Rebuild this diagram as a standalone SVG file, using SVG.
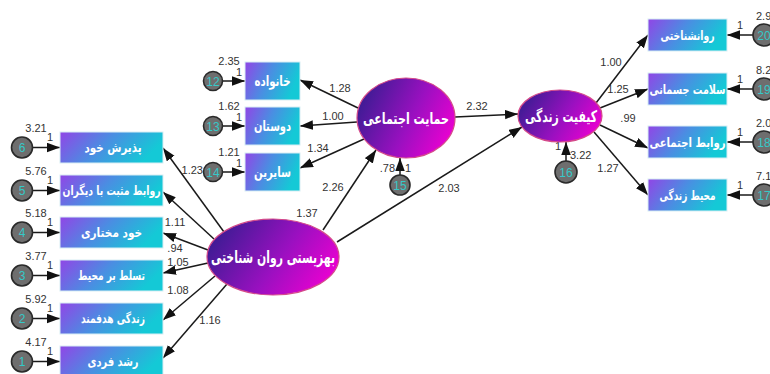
<svg xmlns="http://www.w3.org/2000/svg" width="770" height="374" viewBox="0 0 770 374">
<defs>
<linearGradient id="boxg" x1="0" y1="0" x2="1" y2="0.3">
<stop offset="0" stop-color="#9145e6"/>
<stop offset="0.5" stop-color="#4a8ee2"/>
<stop offset="1" stop-color="#14c9d6"/>
</linearGradient>
<linearGradient id="ellg" x1="0" y1="0.3" x2="1" y2="0.7">
<stop offset="0" stop-color="#3a1c92"/>
<stop offset="0.55" stop-color="#9a10c0"/>
<stop offset="1" stop-color="#ee00d2"/>
</linearGradient>
<marker id="ah" markerUnits="userSpaceOnUse" markerWidth="14" markerHeight="10" refX="13" refY="4.75" orient="auto">
<path d="M0,0 L13,4.75 L0,9.5 z" fill="#111"/>
</marker>
<style>
.box{fill:url(#boxg);stroke:#d8eef4;stroke-width:1}
.ell{fill:url(#ellg);stroke:#d44a8a;stroke-width:1.2}
.err{fill:#6e6e6e;stroke:#2a2a2a;stroke-width:1.6}
.en{fill:#36c8c8;font-family:"Liberation Sans",Arial,sans-serif;font-size:12px;text-anchor:middle}
.fa{fill:#fff;font-family:"DejaVu Sans",sans-serif;font-weight:bold;text-anchor:middle}
.num{fill:#333;font-family:"Liberation Sans",Arial,sans-serif;font-size:11px}
.c{text-anchor:middle}
.e{text-anchor:end}
.ln{stroke:#1a1a1a;stroke-width:1.5;fill:none;marker-end:url(#ah)}
</style>
</defs>
<rect width="770" height="374" fill="#fff"/>

<g id="connectors">
<line class="ln" x1="33" y1="147.5" x2="60" y2="147.5"/>
<line class="ln" x1="33" y1="190.5" x2="60" y2="190.5"/>
<line class="ln" x1="33" y1="232.5" x2="60" y2="232.5"/>
<line class="ln" x1="33" y1="275.5" x2="60" y2="275.5"/>
<line class="ln" x1="33" y1="318.5" x2="60" y2="318.5"/>
<line class="ln" x1="33" y1="361.5" x2="60" y2="361.5"/>
<line class="ln" x1="222.5" y1="81" x2="245" y2="81"/>
<line class="ln" x1="222.5" y1="126" x2="245" y2="126"/>
<line class="ln" x1="222.5" y1="172" x2="245" y2="172"/>
<line class="ln" x1="753" y1="35" x2="727" y2="35"/>
<line class="ln" x1="753" y1="89" x2="727" y2="89"/>
<line class="ln" x1="753" y1="142" x2="727" y2="142"/>
<line class="ln" x1="753" y1="195" x2="727" y2="195"/>
<line class="ln" x1="400" y1="175" x2="400" y2="158"/>
<line class="ln" x1="566" y1="161" x2="566" y2="142"/>
<line class="ln" x1="224" y1="232" x2="163" y2="148"/>
<line class="ln" x1="214" y1="239" x2="163" y2="192"/>
<line class="ln" x1="208" y1="250" x2="163" y2="233"/>
<line class="ln" x1="208" y1="263" x2="163" y2="273"/>
<line class="ln" x1="215" y1="276" x2="163" y2="320"/>
<line class="ln" x1="227" y1="284" x2="163" y2="358"/>
<line class="ln" x1="358" y1="108" x2="300" y2="80"/>
<line class="ln" x1="357" y1="122" x2="300" y2="126"/>
<line class="ln" x1="364" y1="139" x2="300" y2="168"/>
<line class="ln" x1="455" y1="117" x2="518" y2="114"/>
<line class="ln" x1="323" y1="230" x2="376" y2="150"/>
<line class="ln" x1="337" y1="242" x2="522" y2="127"/>
<line class="ln" x1="596" y1="103" x2="648" y2="35"/>
<line class="ln" x1="600" y1="108" x2="648" y2="89"/>
<line class="ln" x1="600" y1="125" x2="648" y2="148"/>
<line class="ln" x1="594" y1="132" x2="648" y2="195"/>
</g>

<g id="path-labels">
<text class="num" x="47" y="141">1</text>
<text class="num" x="47" y="184">1</text>
<text class="num" x="47" y="226">1</text>
<text class="num" x="47" y="269">1</text>
<text class="num" x="47" y="312">1</text>
<text class="num" x="47" y="355">1</text>
<text class="num" x="236" y="76">1</text>
<text class="num" x="236" y="121">1</text>
<text class="num" x="236" y="167">1</text>
<text class="num" x="737" y="29">1</text>
<text class="num" x="737" y="83">1</text>
<text class="num" x="737" y="136">1</text>
<text class="num" x="737" y="189">1</text>
<text class="num e" x="395" y="172">.78</text>
<text class="num" x="405" y="172">1</text>
<text class="num e" x="561" y="150">1</text>
<text class="num" x="570" y="159">3.22</text>
<text class="num c" x="175" y="226">1.11</text>
<text class="num c" x="175" y="252">.94</text>
<text class="num c" x="178" y="266">1.05</text>
<text class="num c" x="178" y="294">1.08</text>
<text class="num c" x="210" y="324">1.16</text>
<text class="num c" x="340" y="92">1.28</text>
<text class="num c" x="333" y="120">1.00</text>
<text class="num c" x="318" y="152">1.34</text>
<text class="num c" x="477" y="110">2.32</text>
<text class="num c" x="333" y="191">2.26</text>
<text class="num c" x="307" y="217">1.37</text>
<text class="num c" x="449" y="192">2.03</text>
<text class="num c" x="611" y="66">1.00</text>
<text class="num c" x="618" y="93">1.25</text>
<text class="num c" x="628" y="122">.99</text>
<text class="num c" x="608" y="172">1.27</text>
</g>

<g id="e6"><circle class="err" cx="22" cy="147.5" r="10.5"/><text class="en" x="22" y="152">6</text><text class="num c" x="36" y="132">3.21</text></g>
<g id="e5"><circle class="err" cx="22" cy="190.5" r="10.5"/><text class="en" x="22" y="195">5</text><text class="num c" x="36" y="175">5.76</text></g>
<g id="e4"><circle class="err" cx="22" cy="232.5" r="10.5"/><text class="en" x="22" y="237">4</text><text class="num c" x="36" y="217">5.18</text></g>
<g id="e3"><circle class="err" cx="22" cy="275.5" r="10.5"/><text class="en" x="22" y="280">3</text><text class="num c" x="36" y="260">3.77</text></g>
<g id="e2"><circle class="err" cx="22" cy="318.5" r="10.5"/><text class="en" x="22" y="323">2</text><text class="num c" x="36" y="303">5.92</text></g>
<g id="e1"><circle class="err" cx="22" cy="361.5" r="10.5"/><text class="en" x="22" y="366">1</text><text class="num c" x="36" y="346">4.17</text></g>

<g id="b-self-acceptance"><rect class="box" x="60" y="132" width="103" height="31"/><text class="fa" x="113" y="152" font-size="13" textLength="57" lengthAdjust="spacingAndGlyphs">پذیرش خود</text></g>
<g id="b-positive-relations"><rect class="box" x="60" y="175" width="103" height="31"/><text class="fa" x="111.5" y="195" font-size="13" textLength="98" lengthAdjust="spacingAndGlyphs">روابط مثبت با دیگران</text></g>
<g id="b-autonomy"><rect class="box" x="60" y="217" width="103" height="31"/><text class="fa" x="111.5" y="237" font-size="13" textLength="61" lengthAdjust="spacingAndGlyphs">خود مختاری</text></g>
<g id="b-mastery"><rect class="box" x="60" y="260" width="103" height="31"/><text class="fa" x="111.5" y="280" font-size="13" textLength="67" lengthAdjust="spacingAndGlyphs">تسلط بر محیط</text></g>
<g id="b-purpose"><rect class="box" x="60" y="303" width="103" height="31"/><text class="fa" x="113" y="323" font-size="13" textLength="64" lengthAdjust="spacingAndGlyphs">زندگی هدفمند</text></g>
<g id="b-growth"><rect class="box" x="60" y="346" width="103" height="31"/><text class="fa" x="113" y="366" font-size="13" textLength="51" lengthAdjust="spacingAndGlyphs">رشد فردی</text></g>

<g id="e12"><circle class="err" cx="213" cy="81" r="9.5"/><text class="en" x="213" y="85.5">12</text><text class="num c" x="229" y="65">2.35</text></g>
<g id="e13"><circle class="err" cx="213" cy="126" r="9.5"/><text class="en" x="213" y="130.5">13</text><text class="num c" x="229" y="110">1.62</text></g>
<g id="e14"><circle class="err" cx="213" cy="172" r="9.5"/><text class="en" x="213" y="176.5">14</text><text class="num c" x="229" y="156">1.21</text><text class="num e" x="203" y="174">1.23</text></g>

<g id="b-family"><rect class="box" x="245" y="62" width="55" height="38"/><text class="fa" x="272.5" y="86" font-size="14" textLength="36" lengthAdjust="spacingAndGlyphs">خانواده</text></g>
<g id="b-friends"><rect class="box" x="245" y="107" width="55" height="38"/><text class="fa" x="272.5" y="131" font-size="14" textLength="37" lengthAdjust="spacingAndGlyphs">دوستان</text></g>
<g id="b-others"><rect class="box" x="245" y="153" width="55" height="38"/><text class="fa" x="272.5" y="177" font-size="14" textLength="37" lengthAdjust="spacingAndGlyphs">سایرین</text></g>

<g id="l-psych-wellbeing"><ellipse class="ell" cx="273" cy="257" rx="66" ry="38"/><text class="fa" x="273" y="263" font-size="17" textLength="124" lengthAdjust="spacingAndGlyphs">بهزیستی روان شناختی</text></g>
<g id="l-social-support"><ellipse class="ell" cx="406" cy="118" rx="49" ry="40"/><text class="fa" x="406" y="124" font-size="16" textLength="86" lengthAdjust="spacingAndGlyphs">حمایت اجتماعی</text></g>
<g id="l-quality-of-life"><ellipse class="ell" cx="560" cy="116" rx="42" ry="26"/><text class="fa" x="561" y="122" font-size="16" textLength="72" lengthAdjust="spacingAndGlyphs">کیفیت زندگی</text></g>

<g id="e15"><circle class="err" cx="400" cy="185" r="10"/><text class="en" x="400" y="189.5">15</text></g>
<g id="e16"><circle class="err" cx="566" cy="172" r="11"/><text class="en" x="566" y="176.5">16</text></g>

<g id="b-psychological"><rect class="box" x="648" y="19" width="79" height="32"/><text class="fa" x="687.5" y="40" font-size="13" textLength="54" lengthAdjust="spacingAndGlyphs">روانشناختی</text></g>
<g id="b-physical"><rect class="box" x="648" y="73" width="79" height="32"/><text class="fa" x="687.5" y="94" font-size="13" textLength="76" lengthAdjust="spacingAndGlyphs">سلامت جسمانی</text></g>
<g id="b-social-relations"><rect class="box" x="648" y="126" width="79" height="32"/><text class="fa" x="687.5" y="147" font-size="13" textLength="76" lengthAdjust="spacingAndGlyphs">روابط اجتماعی</text></g>
<g id="b-environment"><rect class="box" x="648" y="179" width="79" height="32"/><text class="fa" x="687.5" y="200" font-size="13" textLength="56" lengthAdjust="spacingAndGlyphs">محیط زندگی</text></g>

<g id="e20"><circle class="err" cx="764" cy="35" r="11"/><text class="en" x="764" y="39.5">20</text><text class="num" x="756" y="20">2.9</text></g>
<g id="e19"><circle class="err" cx="764" cy="89" r="11"/><text class="en" x="764" y="93.5">19</text><text class="num" x="756" y="74">8.2</text></g>
<g id="e18"><circle class="err" cx="764" cy="142" r="11"/><text class="en" x="764" y="146.5">18</text><text class="num" x="756" y="127">2.0</text></g>
<g id="e17"><circle class="err" cx="764" cy="195" r="11"/><text class="en" x="764" y="199.5">17</text><text class="num" x="756" y="180">7.1</text></g>
</svg>
